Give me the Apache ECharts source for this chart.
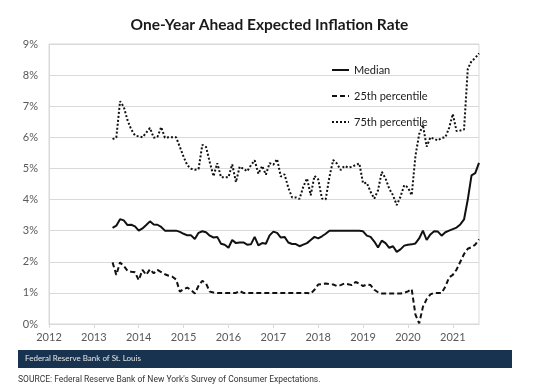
<!DOCTYPE html>
<html>
<head>
<meta charset="utf-8">
<script src="https://cdn.jsdelivr.net/npm/echarts@6/dist/echarts.min.js"></script>
<style>
  html, body { margin: 0; padding: 0; background: #ffffff; }
  #chart { width: 539px; height: 390px; }
</style>
</head>
<body>
<div id="chart"></div>
<script>
// Monthly survey data, June 2013 through August 2021
const startYear = 2013;
const startMonth = 6; // June

const yearTicks = [2012, 2013, 2014, 2015, 2016, 2017, 2018, 2019, 2020, 2021];
const yTicks = [0, 1, 2, 3, 4, 5, 6, 7, 8, 9];

const median = [
  3.09, 3.16, 3.37, 3.33, 3.18, 3.19, 3.14,
  3.0, 3.07, 3.18, 3.30, 3.2, 3.19, 3.12, 3.0, 3.0, 3.0, 3.0, 2.96,
  2.9, 2.85, 2.85, 2.73, 2.93, 2.98, 2.95, 2.84, 2.78, 2.8, 2.58, 2.55,
  2.45, 2.7, 2.6, 2.62, 2.62, 2.55, 2.56, 2.8, 2.53, 2.6, 2.58, 2.85,
  2.97, 2.93, 2.78, 2.8, 2.62, 2.57, 2.57, 2.5, 2.55, 2.6, 2.7, 2.8,
  2.75, 2.82, 2.9, 3.0, 3.0, 3.0, 3.0, 3.0, 3.0, 3.0, 3.0, 3.0,
  2.98, 2.84, 2.8, 2.65, 2.46, 2.68, 2.6, 2.45, 2.5, 2.32, 2.4, 2.52,
  2.55, 2.56, 2.59, 2.75, 3.0, 2.7, 2.88, 2.98, 2.97, 2.84, 2.95, 3.0,
  3.05, 3.1, 3.2, 3.36, 4.0, 4.78, 4.85, 5.18
];

const p25 = [
  1.98, 1.58, 1.98, 1.87, 1.71, 1.68, 1.66,
  1.41, 1.74, 1.58, 1.76, 1.63, 1.74, 1.67, 1.6, 1.55, 1.52, 1.43, 1.04,
  1.12, 1.17, 1.09, 0.98, 1.23, 1.39, 1.3, 1.04, 1.01, 1.0, 1.0, 1.0,
  1.0, 1.0, 1.0, 1.06, 1.0, 1.0, 1.0, 1.0, 1.0, 1.0, 1.0, 1.0,
  1.0, 1.0, 1.0, 1.0, 1.0, 1.0, 1.0, 1.0, 1.0, 1.0, 0.98, 1.1,
  1.27, 1.28, 1.3, 1.28, 1.27, 1.22, 1.25, 1.3, 1.28, 1.25, 1.35, 1.3,
  1.22, 1.27, 1.25, 1.1, 1.02, 0.98, 0.98, 0.98, 0.98, 0.98, 0.98, 1.0,
  1.05, 1.12, 0.3, 0.02, 0.55, 0.8, 0.95, 1.0, 1.0, 1.0, 1.2, 1.5,
  1.58, 1.75, 2.0, 2.25, 2.42, 2.47, 2.55, 2.72
];

const p75 = [
  5.94, 5.99, 7.16, 6.98, 6.55, 6.25, 6.06,
  6.03, 6.0, 6.15, 6.3, 5.99, 6.01, 6.33, 5.99, 6.0, 6.0, 6.0, 5.69,
  5.37, 5.1, 4.99, 4.96, 4.98, 5.76, 5.69, 5.2, 4.75, 5.17, 4.72, 4.72,
  4.72, 5.13, 4.56, 5.06, 4.99, 4.91, 5.1, 5.26, 4.83, 5.08, 4.8, 5.17,
  5.12, 5.3, 4.74, 4.81, 4.38, 4.07, 4.07, 4.02, 4.41, 4.68, 4.14, 4.76,
  4.65, 4.03, 4.01, 4.73, 5.27, 5.16, 4.95, 5.08, 5.03, 5.05, 5.11, 5.16,
  4.52, 4.54, 4.25, 4.03, 4.3, 4.89, 4.68, 4.35, 4.14, 3.82, 4.09, 4.46,
  4.39, 4.14, 5.4, 6.1, 6.4, 5.7, 6.0, 5.95, 5.9, 5.98, 6.0, 6.3,
  6.75, 6.2, 6.22, 6.25, 8.2, 8.45, 8.55, 8.7
];

// fractional-year position of each monthly observation
const monthPos = median.map((_, i) => startYear + (startMonth - 1 + i) / 12);
const pairs = arr => arr.map((v, i) => [monthPos[i], v]);
const xMax = monthPos[monthPos.length - 1];

const FONT = 'Lato, "Open Sans", sans-serif';
const chart = echarts.init(document.getElementById('chart'), null, { renderer: 'canvas' });

chart.setOption({
  animation: false,
  backgroundColor: '#ffffff',
  title: {
    text: 'One-Year Ahead Expected Inflation Rate',
    left: 'center',
    top: 12,
    textStyle: { fontFamily: FONT, fontWeight: 'bold', fontSize: 15.5, color: '#1a1a1a' }
  },
  legend: {
    orient: 'vertical',
    left: 326,
    top: 58,
    itemWidth: 17,
    itemHeight: 10,
    itemGap: 12,
    itemStyle: { opacity: 0, color: 'transparent', borderWidth: 0 },
    textStyle: { fontFamily: FONT, fontSize: 11, color: '#1a1a1a', lineHeight: 14 },
    data: ['Median', '25th percentile', '75th percentile']
  },
  grid: {
    left: 49, right: 60, top: 44, bottom: 66,
    show: true, borderColor: '#d9d9d9', borderWidth: 1
  },
  xAxis: {
    type: 'value',
    min: yearTicks[0],
    max: xMax,
    interval: 1,
    axisLine: { show: true, lineStyle: { color: '#d9d9d9', width: 1 } },
    axisTick: { show: true, length: 4, lineStyle: { color: '#d9d9d9' }, customValues: yearTicks },
    axisLabel: {
      customValues: yearTicks,
      margin: 8,
      fontFamily: FONT, fontSize: 11, color: '#595959',
      formatter: v => Number.isInteger(v) ? String(v) : ''
    },
    splitLine: { show: false }
  },
  yAxis: {
    type: 'value',
    min: yTicks[0],
    max: yTicks[yTicks.length - 1],
    interval: 1,
    axisLine: { show: true, lineStyle: { color: '#d9d9d9' } },
    axisTick: { show: false },
    axisLabel: { margin: 11, fontFamily: FONT, fontSize: 11, color: '#595959', formatter: '{value}%' },
    splitLine: { show: true, lineStyle: { color: '#d9d9d9', width: 1 } }
  },
  series: [
    {
      name: 'Median', type: 'line', data: pairs(median), symbol: 'none',
      lineStyle: { color: '#111111', width: 2, type: 'solid' }, itemStyle: { color: '#111111' }
    },
    {
      name: '25th percentile', type: 'line', data: pairs(p25), symbol: 'none',
      lineStyle: { color: '#111111', width: 2, type: [5, 3] }, itemStyle: { color: '#111111' }
    },
    {
      name: '75th percentile', type: 'line', data: pairs(p75), symbol: 'none',
      lineStyle: { color: '#111111', width: 2, type: [2, 2] }, itemStyle: { color: '#111111' }
    }
  ],
  graphic: [
    {
      type: 'rect', left: 18, top: 350, z: 10,
      shape: { width: 494, height: 18 },
      style: { fill: '#17334f' }
    },
    {
      type: 'text', left: 25, top: 354, z: 11,
      style: { text: 'Federal Reserve Bank of St. Louis', fill: '#e6e6e6', fontFamily: FONT, fontSize: 8 }
    },
    {
      type: 'text', left: 18, top: 375, z: 11,
      style: { text: "SOURCE: Federal Reserve Bank of New York's Survey of Consumer Expectations.", fill: '#333333', fontFamily: 'Roboto, sans-serif', fontSize: 8.5 }
    }
  ]
});
</script>
</body>
</html>
